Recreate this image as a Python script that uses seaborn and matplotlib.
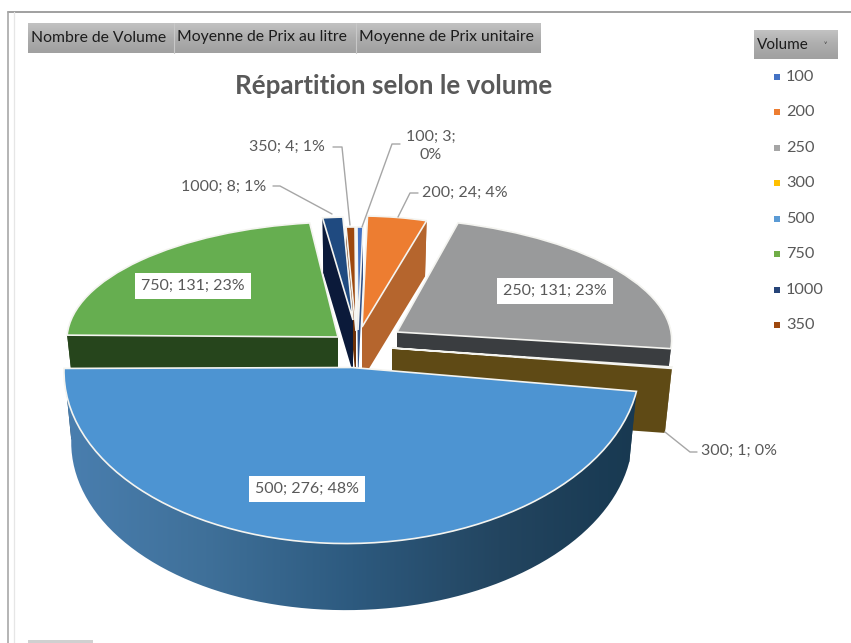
import numpy as np
import matplotlib
matplotlib.use('Agg')
import matplotlib.pyplot as plt
import seaborn as sns
from matplotlib.colors import LinearSegmentedColormap
from matplotlib.patches import Polygon, Rectangle
from matplotlib.transforms import Affine2D

# Data
volumes = ['100', '200', '250', '300', '500', '750', '1000', '350']
counts = [3, 24, 131, 1, 276, 131, 8, 4]
percents = [0, 4, 23, 0, 48, 23, 1, 1]
buttons = ['Nombre de Volume', 'Moyenne de Prix au litre', 'Moyenne de Prix unitaire']

# Styles
top_colors = ['#4472c4', '#ed7d31', '#999a9b', '#e8d49a', '#4d94d2', '#66ae50', '#1f4a80', '#9e480e']
side_colors = ['#2f4f85', '#b5652d', '#3a3d40', '#5f4a15', '#1c3c55', '#26451c', '#0b1a3a', '#6e3209']
legend_colors = ['#4472c4', '#ed7d31', '#a5a5a5', '#ffc000', '#5b9bd5', '#70ad47', '#264478', '#9e480e']

# Pixel placement of each slice: tip x, tip y, x radius, y radius, x shear, y tilt, depth
placement = [
    (358, 330, 184, 103, -1, 0, 50),
    (362, 327, 230, 111, -2, 0, 53),
    (397, 332, 274, 114, -19, 0, 60),
    (392, 348, 283, 130, 0, 0, 65),
    (352, 367.5, 288, 176, 0, -3.8, 71),
    (338, 337, 271, 115, 7, 0, 60),
    (353, 320, 234, 103, 0, 0, 53),
    (356, 331, 206, 104, -1, 0, 50),
]
draw_order = [2, 1, 0, 7, 6, 5, 3, 4]
SHRINK = 0.975

sns.set_theme(style='white')
plt.rcParams['font.family'] = ['Lato', 'DejaVu Sans']

fig = plt.figure(figsize=(8.51, 6.43), dpi=100)
ax = fig.add_axes([0, 0, 1, 1])

wedges, _ = ax.pie(counts, startangle=90, counterclock=False, radius=1,
                   colors=top_colors,
                   wedgeprops={'edgecolor': '#f4f4f0', 'linewidth': 1.2})


def to_px(place, theta, bottom=False):
    cx, cy, a, b, s, t, d = place
    ux, uy = np.cos(np.radians(theta)), np.sin(np.radians(theta))
    x, y = a * ux + s * uy, t * ux - b * uy
    if bottom:
        return np.column_stack([cx + x * SHRINK, cy + y * SHRINK + d])
    return np.column_stack([cx + x, cy + y])


blue_ramp = LinearSegmentedColormap.from_list(
    'side', ['#4a7fb0', '#3f7099', '#2d5a7f', '#234560', '#173850'])

for rank, i in enumerate(draw_order):
    place = placement[i]
    cx, cy, a, b, s, t, d = place
    w = wedges[i]
    z = 10 + rank * 2
    w.set_transform(Affine2D(np.array([[a, s, cx], [t, -b, cy], [0, 0, 1]])) + ax.transData)
    w.set_zorder(z + 1)

    # cut faces
    tip_top = np.array([[cx, cy]])
    tip_bot = np.array([[cx, cy + d]])
    for th in (w.theta1, w.theta2):
        pts = np.vstack([tip_top, to_px(place, [th]), to_px(place, [th], True), tip_bot])
        ax.add_patch(Polygon(pts, closed=True, fc=side_colors[i], ec='none', zorder=z))

    # outer wall
    th = np.linspace(w.theta1, w.theta2, 80)
    wall = np.vstack([to_px(place, th), to_px(place, th[::-1], True)])
    wall_patch = Polygon(wall, closed=True, fc=side_colors[i], ec='none', zorder=z,
                         transform=ax.transData)
    ax.add_patch(wall_patch)
    if volumes[i] == '500':
        wall_patch.set_visible(False)
        im = ax.imshow(np.linspace(0, 1, 256)[None, :], cmap=blue_ramp, aspect='auto',
                       extent=(60, 645, 615, 360), zorder=z)
        im.set_clip_path(wall_patch)

# Header buttons
ramp = LinearSegmentedColormap.from_list('btn', ['#c2c2c2', '#adadad', '#a0a0a0'])
im = ax.imshow(np.linspace(0, 1, 64)[:, None], cmap=ramp, aspect='auto',
               extent=(28, 541, 53, 23), zorder=2)
im = ax.imshow(np.linspace(0, 1, 64)[:, None], cmap=ramp, aspect='auto',
               extent=(754, 838, 59, 30), zorder=2)
for x in (174, 356):
    ax.plot([x, x], [23, 53], color='#c8c8c8', lw=0.8, zorder=3)
for x, name in zip((31, 177, 359), buttons):
    ax.text(x, 37.5, name, fontsize=11.3, color='#1c1c1c', va='center', ha='left', zorder=4)
ax.text(757, 45, 'Volume', fontsize=11, color='#1c1c1c', va='center', ha='left', zorder=4)
ax.text(825, 44, '˅', fontsize=5, color='#333333', va='center', ha='center', zorder=4)

ax.text(394, 86, 'Répartition selon le volume', fontsize=18.7, fontweight='bold',
        color='#595959', ha='center', va='center', zorder=4)

# Legend
legend_y = [77, 112, 148, 183, 219, 254, 290, 325]
for name, col, y in zip(volumes, legend_colors, legend_y):
    ax.scatter([777], [y], marker='s', s=22, color=col, zorder=4, linewidths=0)
    ax.text(786, y, name, fontsize=11.7, color='#595959', va='center', ha='left', zorder=4)

# Data labels
labels = [f'{v}; {n}; {p}%' for v, n, p in zip(volumes, counts, percents)]
labels[0] = labels[0].replace('3; ', '3;\n')
label_pos = [(431, 146), (465, 193), (555, 291), (739, 451),
             (307, 489), (193, 286), (224, 187), (287, 147)]
boxed = {'250', '500', '750'}
for name, text, (x, y) in zip(volumes, labels, label_pos):
    box = dict(facecolor='white', edgecolor='none', pad=4.5) if name in boxed else None
    ax.text(x, y, text, fontsize=11.5, color='#595959', ha='center', va='center',
            bbox=box, zorder=40, linespacing=1.45)

leaders = [
    ([362, 392, 400], [227, 144, 144]),
    ([398, 410, 418], [217, 193, 193]),
    ([665, 690, 697], [432, 452, 452]),
    ([332, 280, 273], [214, 186, 186]),
    ([350, 342, 333], [225, 147, 147]),
]
for xs, ys in leaders:
    ax.plot(xs, ys, color='#a6a6a6', lw=1.0, zorder=39)

# Sheet frame
ax.plot([8, 851], [12, 12], color='#a0a0a0', lw=1.4, zorder=1)
ax.plot([8, 8], [12, 643], color='#a8a8a8', lw=1.2, zorder=1)
ax.plot([14, 14], [12, 643], color='#e6e6e6', lw=0.9, zorder=1)
ax.add_patch(Rectangle((28, 640), 65, 4, fc='#d0d0d0', ec='none', zorder=1))

ax.set_aspect('auto')
ax.set_xlim(0, 851)
ax.set_ylim(643, 0)
ax.set_axis_off()

fig.savefig('out.png', dpi=100, facecolor='white')
